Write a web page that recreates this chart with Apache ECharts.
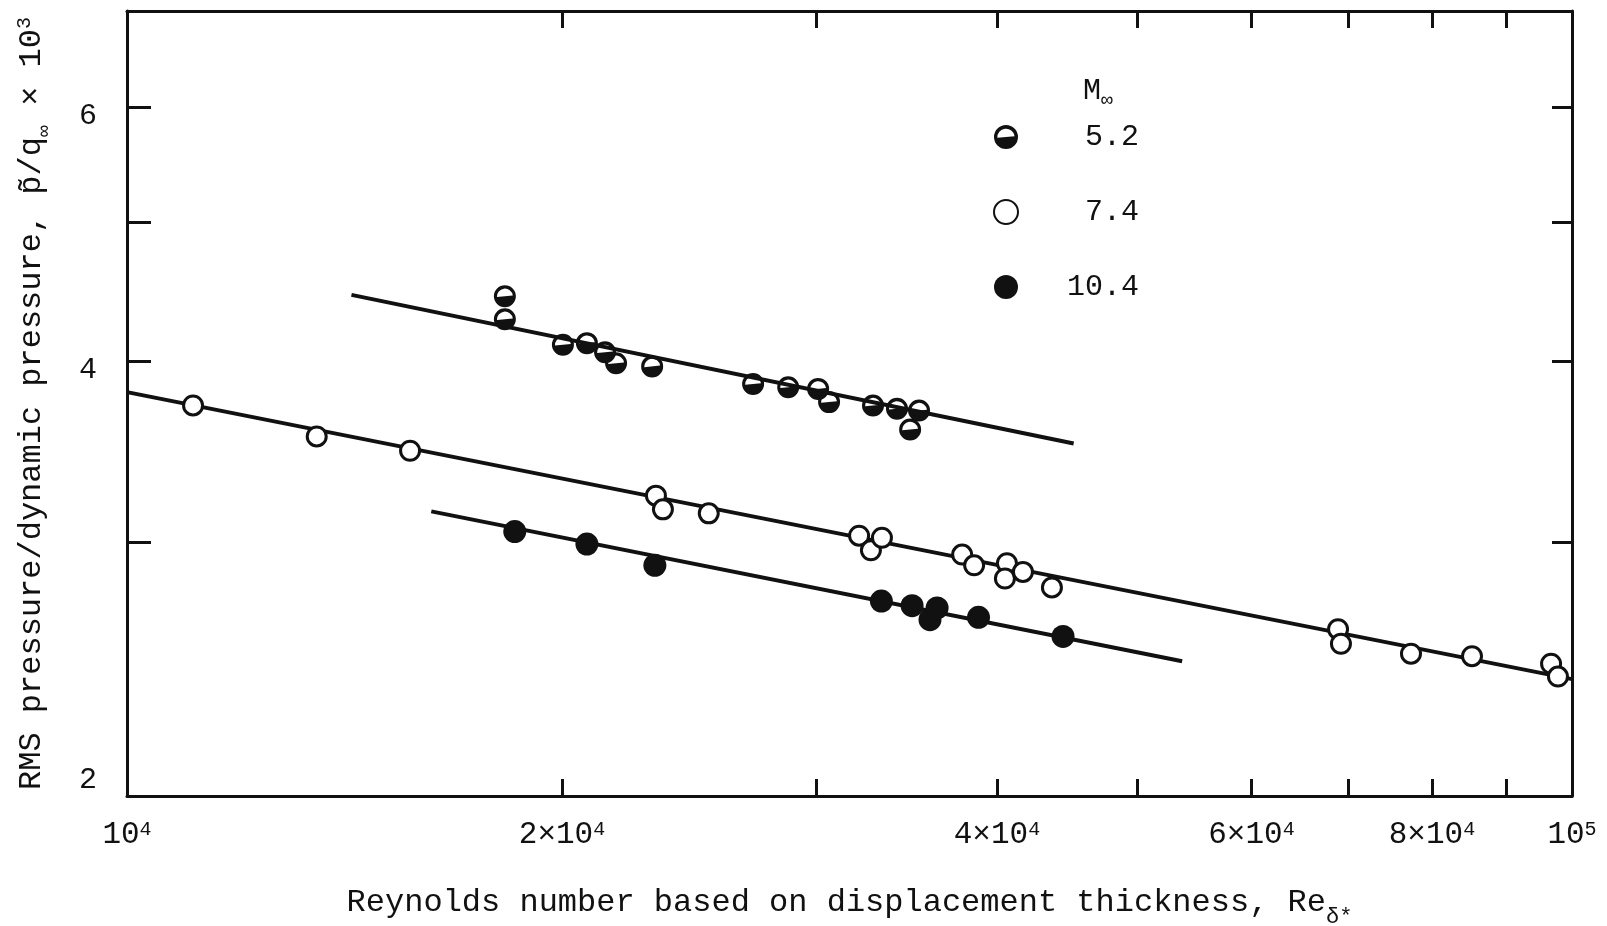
<!DOCTYPE html>
<html>
<head>
<meta charset="utf-8">
<title>RMS pressure vs Reynolds number</title>
<script src="https://cdn.jsdelivr.net/npm/echarts@6.0.0/dist/echarts.min.js"></script>
<style>
  html, body { margin: 0; padding: 0; background: #fff; }
  #chart { width: 1607px; height: 926px; }
</style>
</head>
<body>
<div id="chart"></div>
<script>
var FONT = '"Liberation Mono", "DejaVu Sans Mono", monospace';
var INK = '#111';

// M = 5.2 (half filled symbols)
var re52 = [18260, 18260, 20030, 20810, 21420, 21800, 23090, 27120, 28680, 30080, 30610, 32830, 34110, 35330, 34830];
var p52 = [4.44, 4.28, 4.11, 4.12, 4.06, 3.99, 3.97, 3.86, 3.84, 3.83, 3.75, 3.73, 3.71, 3.70, 3.59];
// M = 7.4 (open symbols)
var re74 = [11110, 13530, 15700, 23230, 23490, 25270, 32110, 32720, 33300, 37840, 38570, 40640, 40510, 41690, 43660, 68880, 69200, 77370, 85270, 96720, 97790];
var p74 = [3.73, 3.55, 3.47, 3.23, 3.16, 3.14, 3.03, 2.96, 3.02, 2.94, 2.89, 2.90, 2.83, 2.86, 2.79, 2.61, 2.55, 2.51, 2.50, 2.47, 2.42];
// M = 10.4 (filled symbols)
var re104 = [18550, 20810, 23190, 33270, 34940, 35950, 36360, 38840, 44440];
var p104 = [3.05, 2.99, 2.89, 2.73, 2.71, 2.65, 2.70, 2.66, 2.58];

// faired lines (end points)
var fitRe52 = [14300, 45200], fitP52 = [4.45, 3.51];
var fitRe74 = [10000, 100000], fitP74 = [3.81, 2.41];
var fitRe104 = [16240, 53730], fitP104 = [3.15, 2.48];

// axes
var xTicks = [20000, 30000, 40000, 50000, 60000, 70000, 80000, 90000];
var xLabels = [10000, 20000, 40000, 60000, 80000, 100000];
var yTicks = [3, 4, 5, 6];
var yLabels = [2, 4, 6];

function pairs(xs, ys) {
    return xs.map(function (x, i) { return [x, ys[i]]; });
}
function logs(arr) {
    return arr.map(function (v) { return Math.log10(v); });
}

// circle with the top half left open
var HALF = 'path://M0 50A50 50 0 1 1 100 50A50 50 0 1 1 0 50ZM14 53.5L86 46.5A36.2 36.2 0 0 0 14 53.5Z';

var chart = echarts.init(document.getElementById('chart'), null, { renderer: 'canvas' });

var axisLineStyle = { show: true, onZero: false, lineStyle: { color: INK, width: 3 } };

var option = {
    backgroundColor: '#fff',
    animation: false,
    textStyle: { fontFamily: FONT, color: INK },
    grid: { left: 127, right: 35, top: 11, bottom: 130, containLabel: false, outerBoundsMode: 'none' },
    title: {
        text: '{m|M}{s|∞}',
        left: 1078,
        top: 70,
        textStyle: {
            fontWeight: 'normal',
            rich: {
                m: { fontFamily: FONT, fontSize: 30, fontWeight: 'normal', color: INK, lineHeight: 32 },
                s: { fontFamily: FONT, fontSize: 20, fontWeight: 'normal', color: INK, verticalAlign: 'bottom', lineHeight: 20, padding: [0, 0, -4, 0] }
            }
        }
    },
    legend: {
        orient: 'vertical',
        left: 988,
        top: 117,
        itemWidth: 24,
        itemHeight: 24,
        itemGap: 45,
        selectedMode: false,
        data: ['5.2', '7.4', '10.4'],
        formatter: function (name) { return name.length < 4 ? ' ' + name : name; },
        textStyle: { fontFamily: FONT, fontSize: 30, color: INK, lineHeight: 30, padding: [0, 0, 0, 44] }
    },
    xAxis: [
        { type: 'log', logBase: 10, min: 10000, max: 100000, show: false },
        {
            type: 'value', min: 4, max: 5, position: 'bottom',
            axisLine: axisLineStyle,
            splitLine: { show: false },
            axisTick: { show: true, inside: true, length: 17, customValues: logs(xTicks), lineStyle: { color: INK, width: 3 } },
            axisLabel: {
                show: true, margin: 24, customValues: logs(xLabels),
                formatter: function (v) {
                    var m = Math.round(Math.pow(10, v) / 10000);
                    if (m === 1) return '{b|10}{sup|4}';
                    if (m === 10) return '{b|10}{sup|5}';
                    return '{b|' + m + '×10}{sup|4}';
                },
                rich: {
                    b: { fontFamily: FONT, fontSize: 31, color: INK, lineHeight: 30 },
                    sup: { fontFamily: FONT, fontSize: 20, color: INK, verticalAlign: 'top', lineHeight: 19 }
                }
            },
            name: '{t|Reynolds number based on displacement thickness, Re}{sub|δ*}',
            nameLocation: 'middle',
            nameGap: 90,
            nameTextStyle: {
                rich: {
                    t: { fontFamily: FONT, fontSize: 32, color: INK, lineHeight: 34 },
                    sub: { fontFamily: FONT, fontSize: 22, color: INK, verticalAlign: 'bottom', lineHeight: 22, padding: [0, 0, -8, 0] }
                }
            }
        },
        {
            type: 'value', min: 4, max: 5, position: 'top',
            axisLine: axisLineStyle,
            splitLine: { show: false },
            axisTick: { show: true, inside: true, length: 17, customValues: logs(xTicks), lineStyle: { color: INK, width: 3 } },
            axisLabel: { show: false }
        }
    ],
    yAxis: [
        { type: 'log', logBase: 10, min: 2, max: 7, show: false },
        {
            type: 'value', min: Math.log10(2), max: Math.log10(7), position: 'left',
            axisLine: axisLineStyle,
            splitLine: { show: false },
            axisTick: { show: true, inside: true, length: 24, customValues: logs(yTicks), lineStyle: { color: INK, width: 3 } },
            axisLabel: {
                show: true, margin: 30, customValues: logs(yLabels),
                formatter: function (v) {
                    var n = Math.round(Math.pow(10, v));
                    // typed labels sit a little off their ticks
                    return n === 2 ? '{up|' + n + '}' : '{dn|' + n + '}';
                },
                rich: {
                    up: { fontFamily: FONT, fontSize: 30, color: INK, padding: [0, 0, 32, 0] },
                    dn: { fontFamily: FONT, fontSize: 30, color: INK, padding: [16, 0, 0, 0] }
                }
            },
            name: '{t|RMS pressure/dynamic pressure, p̃/q}{sub|∞}{t| × 10}{sup|3}',
            nameLocation: 'middle',
            nameRotate: 90,
            nameGap: 78,
            nameTextStyle: {
                rich: {
                    t: { fontFamily: FONT, fontSize: 32, color: INK, lineHeight: 34 },
                    sub: { fontFamily: FONT, fontSize: 20, color: INK, verticalAlign: 'bottom', lineHeight: 20, padding: [0, 0, -6, 0] },
                    sup: { fontFamily: FONT, fontSize: 20, color: INK, verticalAlign: 'top', lineHeight: 20 }
                }
            }
        },
        {
            type: 'value', min: Math.log10(2), max: Math.log10(7), position: 'right',
            axisLine: axisLineStyle,
            splitLine: { show: false },
            axisTick: { show: true, inside: true, length: 20, customValues: logs(yTicks), lineStyle: { color: INK, width: 3 } },
            axisLabel: { show: false }
        }
    ],
    series: [
        {
            type: 'line', data: pairs(fitRe52, fitP52), symbol: 'none', silent: true, z: 2,
            lineStyle: { color: INK, width: 4 }
        },
        {
            type: 'line', data: pairs(fitRe74, fitP74), symbol: 'none', silent: true, z: 2,
            lineStyle: { color: INK, width: 4 }
        },
        {
            type: 'line', data: pairs(fitRe104, fitP104), symbol: 'none', silent: true, z: 2,
            lineStyle: { color: INK, width: 4 }
        },
        {
            name: '5.2', type: 'scatter', data: pairs(re52, p52), z: 5,
            symbol: HALF, symbolSize: 22,
            itemStyle: { color: INK, opacity: 1 }
        },
        {
            name: '7.4', type: 'scatter', data: pairs(re74, p74), z: 5,
            symbol: 'circle', symbolSize: 19,
            itemStyle: { color: '#fff', borderColor: INK, borderWidth: 3, opacity: 1 }
        },
        {
            name: '10.4', type: 'scatter', data: pairs(re104, p104), z: 5,
            symbol: 'circle', symbolSize: 23,
            itemStyle: { color: INK, opacity: 1 }
        }
    ]
};

chart.setOption(option);
</script>
</body>
</html>
